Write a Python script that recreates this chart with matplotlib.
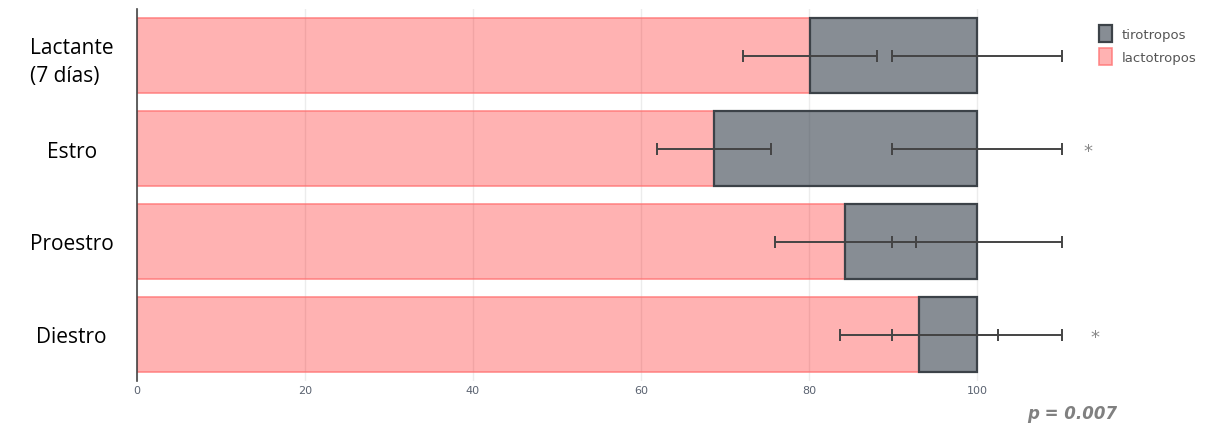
import matplotlib.pyplot as plt
import numpy as np

# porcentaje de células por grupo
grupos = ["Lactante\n(7 días)", "Estro", "Proestro", "Diestro"]
lactotropos = [80.1, 68.7, 84.3, 93.1]
tirotropos = [19.9, 31.3, 15.7, 6.9]
err_lacto = [8.0, 6.8, 8.4, 9.4]
err_tiro = [10.1, 10.1, 10.1, 10.1]
significativo = [False, True, False, True]

fig = plt.figure(figsize=(12.05, 4.27), dpi=100)
ax = fig.add_axes([137 / 1205, 45 / 427, (1068 - 137) / 1205, (383 - 11) / 427])

y = np.arange(len(grupos))
total = np.array(lactotropos) + np.array(tirotropos)

ax.barh(y, lactotropos, height=0.8, color=(1, 0, 0, 0.3),
        edgecolor=(1, 0.45, 0.45, 0.8), linewidth=1.2, label="lactotropos", zorder=2)
ax.barh(y, tirotropos, left=lactotropos, height=0.8, color=(55/255, 65/255, 77/255, 0.6),
        edgecolor="#3c4248", linewidth=1.6, label="tirotropos", zorder=2)

ax.errorbar(lactotropos, y, xerr=err_lacto, fmt="none", ecolor="#444444",
            elinewidth=1.4, capsize=4, capthick=1.4, zorder=3)
ax.errorbar(total, y, xerr=err_tiro, fmt="none", ecolor="#444444",
            elinewidth=1.4, capsize=4, capthick=1.4, zorder=3)

for i, s in enumerate(significativo):
    if s:
        ax.text(113.2 + 0.8 * (i == 3), i + 0.03, "*", ha="center", va="center",
                fontsize=13, color="#888888", clip_on=False)

ax.set_xlim(0, (1068 - 137) / 8.4)
ax.set_ylim(3.5, -0.5)
ax.set_xticks([0, 20, 40, 60, 80, 100])
ax.set_yticks(y)
ax.set_yticklabels(grupos, fontsize=15, family="Open Sans", ha="center",
                   multialignment="left", linespacing=1.45)
ax.tick_params(axis="y", length=0, pad=47)
ax.tick_params(axis="x", length=0, labelsize=8, labelcolor="#5a6270", pad=3)
ax.grid(axis="x", color="#ececec", linewidth=1, zorder=0)
ax.set_axisbelow(True)
for lado in ["top", "right", "bottom"]:
    ax.spines[lado].set_visible(False)
ax.spines["left"].set_color("#444444")
ax.spines["left"].set_linewidth(1.2)

handles, labels = ax.get_legend_handles_labels()
fig.legend(handles[::-1], labels[::-1], loc="upper left", bbox_to_anchor=(1087 / 1205, 1 - 14 / 427),
           frameon=False, fontsize=9.5, labelcolor="#555555", handlelength=1.0,
           handleheight=1.6, handletextpad=0.7, labelspacing=0.45)

fig.text(1117 / 1205, 1 - 414 / 427, "p = 0.007", ha="right", va="center",
         fontsize=12, fontweight="bold", style="italic", color="#808080")

fig.savefig("out.png", dpi=100)
